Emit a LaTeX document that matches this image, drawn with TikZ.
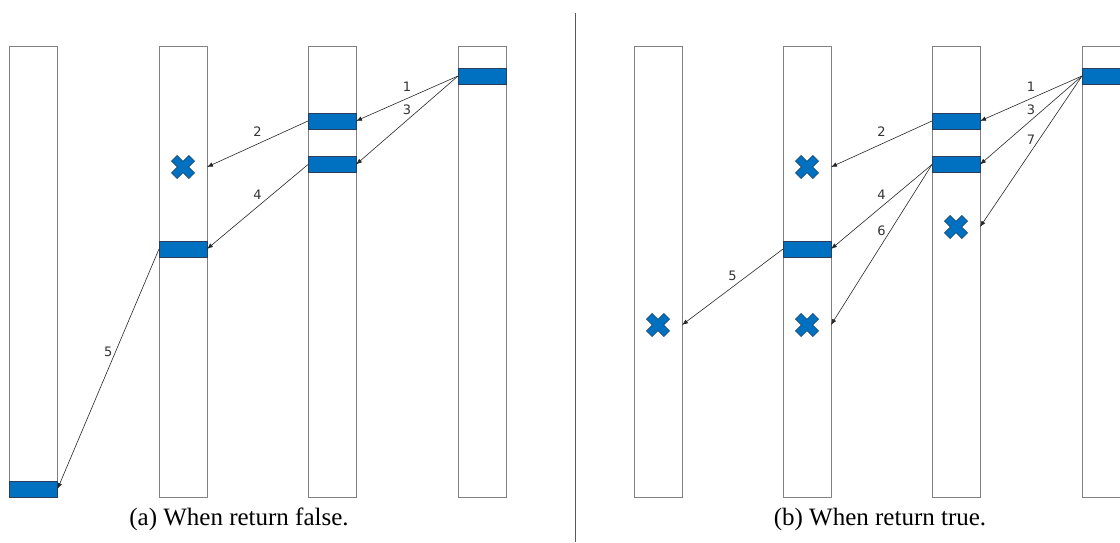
\documentclass[tikz,border=0pt]{standalone}
\usepackage{fontspec}
\setmainfont{Liberation Serif}
\newfontfamily\lblfont{DejaVu Sans}
\usetikzlibrary{arrows.meta}
\definecolor{barblue}{RGB}{0,112,192}
\definecolor{baredge}{RGB}{40,62,90}
\definecolor{coledge}{RGB}{128,128,128}
\definecolor{xedge}{RGB}{31,78,121}
\definecolor{divline}{RGB}{90,90,90}
\tikzset{
  column/.style={draw=coledge, line width=1pt, minimum width=48pt, minimum height=451pt, inner sep=0pt, outer sep=0pt},
  slot/.style={draw=baredge, fill=barblue, line width=0.9pt, minimum width=48pt, minimum height=16pt, inner sep=0pt, outer sep=0pt},
  ptr/.style={draw=black!85, line width=0.6pt, -{Latex[length=6pt,width=4.5pt]}},
  lbl/.style={font=\lblfont\fontsize{13}{13}\selectfont, text=black!80, inner sep=0pt, yshift=12pt},
  caption/.style={font=\fontsize{25}{25}\selectfont, inner sep=0pt},
  xmark/.pic={
    \filldraw[fill=barblue, draw=xedge, line width=0.8pt, rotate=45]
      (-4,-12.3) -- (4,-12.3) -- (4,-4) -- (12.3,-4) -- (12.3,4) -- (4,4) --
      (4,12.3) -- (-4,12.3) -- (-4,4) -- (-12.3,4) -- (-12.3,-4) -- (-4,-4) -- cycle;
  }
}
\begin{document}
\begin{tikzpicture}[x=1pt, y=-1pt]
  \useasboundingbox (0,0) rectangle (1120,542);
  \clip (0,0) rectangle (1120,542);

  % ---------- (a) ----------
  \node[column] (a1) at (33.5,271.5) {};
  \node[column] (a2) at (183,271.5) {};
  \node[column] (a3) at (332,271.5) {};
  \node[column] (a4) at (482,271.5) {};

  \node[slot] (a4s) at (482,76) {};
  \node[slot] (a3s1) at (332,121) {};
  \node[slot] (a3s2) at (332,164.5) {};
  \node[slot] (a2s) at (183,249) {};
  \node[slot] (a1s) at (33.5,489) {};

  \coordinate (ax1) at (183,167);
  \pic at (ax1) {xmark};

  \draw[ptr] (a4s.west) -- node[lbl] {1} (a3s1.east);
  \draw[ptr] (a4s.west) -- node[lbl, yshift=-2pt] {3} (a3s2.east);
  \draw[ptr] (a3s1.west) -- node[lbl] {2} (a2.east |- ax1);
  \draw[ptr] (a3s2.west) -- node[lbl] {4} (a2s.east);
  \draw[ptr] (a2s.west) -- node[lbl, yshift=5pt] {5} (a1s.east);

  \node[caption] (capa) at (239,519) {(a) When return false.};

  % divider
  \coordinate (dtop) at (575.5,13);
  \coordinate (dbot) at (575.5,542);
  \draw[divline, line width=1pt] (dtop) -- (dbot);

  % ---------- (b) ----------
  \node[column] (b1) at (658,271.5) {};
  \node[column] (b2) at (807,271.5) {};
  \node[column] (b3) at (956,271.5) {};
  \node[column] (b4) at (1106,271.5) {};

  \node[slot] (b4s) at (1106,76) {};
  \node[slot] (b3s1) at (956,121) {};
  \node[slot] (b3s2) at (956,164.5) {};
  \node[slot] (b2s) at (807,249) {};

  \coordinate (bx1) at (807,167);
  \coordinate (bx2) at (956,227);
  \coordinate (bx3) at (807,325);
  \coordinate (bx4) at (658,325);
  \pic at (bx1) {xmark};
  \pic at (bx2) {xmark};
  \pic at (bx3) {xmark};
  \pic at (bx4) {xmark};

  \draw[ptr] (b4s.west) -- node[lbl] {1} (b3s1.east);
  \draw[ptr] (b4s.west) -- node[lbl, yshift=-2pt] {3} (b3s2.east);
  \draw[ptr] (b4s.west) -- node[lbl] {7} (b3.east |- bx2);
  \draw[ptr] (b3s1.west) -- node[lbl] {2} (b2.east |- bx1);
  \draw[ptr] (b3s2.west) -- node[lbl] {4} (b2s.east);
  \draw[ptr] (b3s2.west) -- node[lbl, yshift=2pt] {6} (b2.east |- bx3);
  \draw[ptr] (b2s.west) -- node[lbl, yshift=-1pt] {5} (b1.east |- bx4);

  \node[caption] (capb) at (880,519) {(b) When return true.};
\end{tikzpicture}
\end{document}
